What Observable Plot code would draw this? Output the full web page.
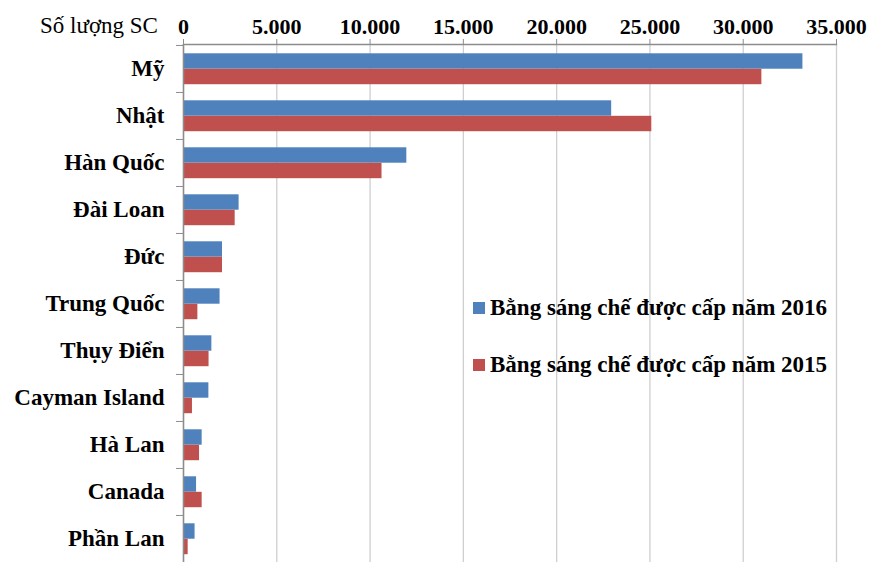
<!DOCTYPE html>
<html>
<head>
<meta charset="utf-8">
<script src="https://cdn.jsdelivr.net/npm/d3@7"></script>
<script src="https://cdn.jsdelivr.net/npm/@observablehq/plot@0.6"></script>
<style>
  html, body { margin: 0; padding: 0; background: #fff; }
  #wrap { position: relative; width: 885px; height: 562px; font-family: "Liberation Serif", "Times New Roman", serif; }
  #ytitle { position: absolute; left: 40px; top: 13px; font-size: 23px; color: #000; white-space: nowrap; }
  #legend { position: absolute; left: 473px; top: 294px; font-size: 23px; font-weight: bold; color: #000; }
  .item { display: flex; align-items: center; height: 28px; margin-bottom: 28.6px; white-space: nowrap; }
  .sw { width: 12px; height: 12px; margin-right: 5px; }
</style>
</head>
<body>
<div id="wrap">
  <div id="chart"></div>
  <div id="ytitle">Số lượng SC</div>
  <div id="legend"></div>
</div>
<script>
const countries = ["Mỹ", "Nhật", "Hàn Quốc", "Đài Loan", "Đức", "Trung Quốc", "Thụy Điển", "Cayman Island", "Hà Lan", "Canada", "Phần Lan"];
const values2016 = [33200, 22950, 11970, 2980, 2090, 1960, 1520, 1360, 1000, 700, 620];
const values2015 = [31000, 25100, 10640, 2770, 2090, 770, 1370, 480, 860, 1000, 250];
const seriesNames = ["Bằng sáng chế được cấp năm 2016", "Bằng sáng chế được cấp năm 2015"];
const seriesColors = ["#4F81BD", "#C0504D"];
const xTicks = [0, 5000, 10000, 15000, 20000, 25000, 30000, 35000];
const yAxisTitle = "Số lượng SC";

const fmt = d3.formatLocale({decimal: ",", thousands: ".", grouping: [3], currency: ["", ""]}).format(",d");

const rows2016 = countries.map((c, i) => ({country: c, value: values2016[i]}));
const rows2015 = countries.map((c, i) => ({country: c, value: values2015[i]}));

const W = 885, H = 562, mTop = 44, mLeft = 183, mRight = 49, mBottom = 0;
const bw = (H - mTop - mBottom) / countries.length;
const barH = 15.5;
const gapTop = 8.3;

const chart = Plot.plot({
  width: W,
  height: H,
  marginTop: mTop,
  marginLeft: mLeft,
  marginRight: mRight,
  marginBottom: mBottom,
  style: {fontFamily: "'Liberation Serif', 'Times New Roman', serif", fontSize: "22px", fontWeight: "bold", color: "#000", background: "#fff"},
  x: {domain: [0, 35000], axis: null},
  y: {domain: countries, padding: 0, axis: null, label: null},
  marks: [
    Plot.gridX(xTicks, {stroke: "#cfcfcf", strokeOpacity: 1, strokeWidth: 1.3}),
    Plot.barX(rows2016, {y: "country", x: "value", fill: seriesColors[0], insetTop: gapTop, insetBottom: bw - gapTop - barH}),
    Plot.barX(rows2015, {y: "country", x: "value", fill: seriesColors[1], insetTop: gapTop + barH, insetBottom: bw - gapTop - 2 * barH}),
    Plot.ruleX([0], {stroke: "#8c8c8c", strokeWidth: 1.5}),
    Plot.frame({anchor: "top", stroke: "#8c8c8c", strokeWidth: 1.3}),
    Plot.axisX(xTicks, {anchor: "top", tickSize: 6, tickPadding: 5, stroke: "#8c8c8c", tickFormat: fmt, label: null, fontSize: 22, fontWeight: "bold"}),
    Plot.axisY({anchor: "left", tickSize: 7, tickFormat: () => "", dy: -bw / 2, stroke: "#8c8c8c", label: null}),
    Plot.axisY({anchor: "left", tickSize: 0, tickPadding: 19, label: null, fontSize: 23, fontWeight: "bold"})
  ]
});
document.getElementById("chart").appendChild(chart);
document.getElementById("ytitle").textContent = yAxisTitle;

const legend = document.getElementById("legend");
seriesNames.forEach((name, i) => {
  const it = document.createElement("div");
  it.className = "item";
  const sw = document.createElement("div");
  sw.className = "sw";
  sw.style.background = seriesColors[i];
  const tx = document.createElement("span");
  tx.textContent = name;
  it.appendChild(sw);
  it.appendChild(tx);
  legend.appendChild(it);
});
</script>
</body>
</html>
